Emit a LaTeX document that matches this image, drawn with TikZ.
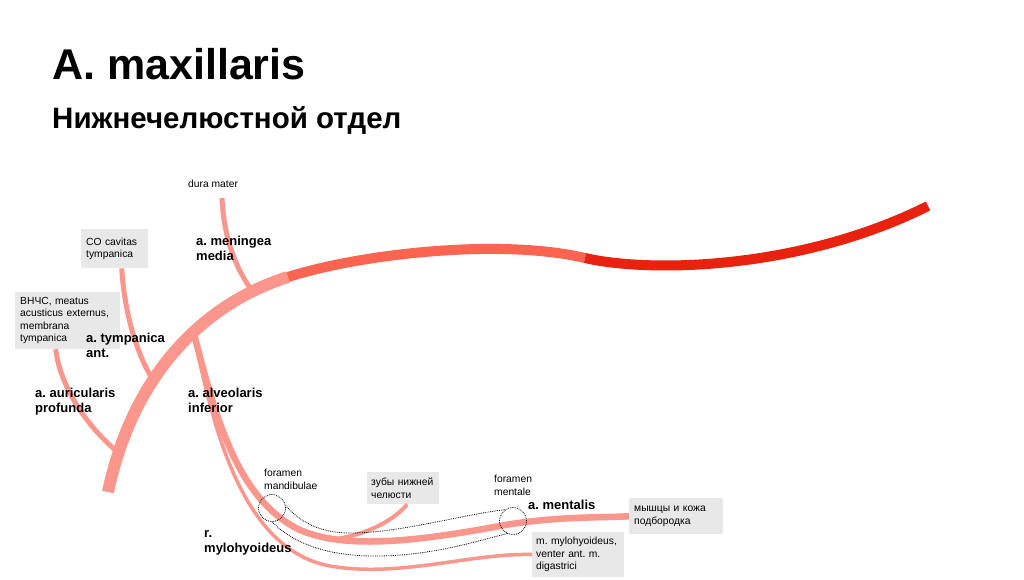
\documentclass[tikz,border=0pt]{standalone}
\usepackage{fontspec}
\setmainfont{Liberation Sans}
\usetikzlibrary{positioning}
\definecolor{vessel}{RGB}{250,150,140}
\definecolor{vesselmid}{RGB}{250,100,80}
\definecolor{vesseldark}{RGB}{232,34,14}
\definecolor{boxgray}{RGB}{232,232,232}
\frenchspacing

\begin{document}
\begin{tikzpicture}[
  x=1pt, y=-1pt,
  tag/.style={anchor=north west, inner sep=0pt, align=left, font=\fontsize{13}{15}\selectfont\bfseries},
  note/.style={anchor=north west, inner sep=0pt, align=left, font=\fontsize{10.3}{12.5}\selectfont},
  info/.style={note, fill=boxgray, inner xsep=5pt, inner ysep=5pt},
  branch/.style={draw=vessel, line width=5pt},
  foramen/.style={circle, draw, densely dotted, line width=0.8pt, minimum size=27pt, inner sep=0pt},
  canal/.style={densely dotted, line width=0.8pt}
]
\fill[white] (0,0) rectangle (1024,574);

\node[anchor=north west, inner sep=0pt, font=\fontsize{43}{50}\selectfont\bfseries] (title) at (52,48) {A. maxillaris};
\node[anchor=north west, inner sep=0pt, font=\fontsize{29.5}{34}\selectfont\bfseries] (subtitle) at (52,106) {Нижнечелюстной отдел};

% boxes
\node[info, text width=57pt, minimum height=39pt] (co) at (81,229) {CO cavitas\\tympanica};
\node[info, text width=95pt, minimum height=53pt] (vnchs) at (15,292) {ВНЧС, meatus\\acusticus externus,\\membrana\\tympanica};
\node[info, text width=64pt, inner xsep=4pt, minimum height=32pt] (teeth) at (367,472) {зубы нижней\\челюсти};
\node[info, text width=84pt, minimum height=36pt] (chin) at (629,498) {мышцы и кожа\\подбородка};
\node[info, text width=84pt, inner xsep=4pt, minimum height=42pt] (myl) at (532,532) {m. mylohyoideus,\\venter ant. m.\\digastrici};

% a. maxillaris
\draw[vessel, line width=12pt] (108,492) .. controls (132,378) and (200,305) .. (288,277)
  coordinate[pos=0.12] (jaur) coordinate[pos=0.38] (jtym)
  coordinate[pos=0.6] (jalv) coordinate[pos=0.86] (jmen);
\draw[vesselmid, line width=10pt] (288,277) .. controls (360,254) and (500,238) .. (585,258);
\draw[vesseldark, line width=10pt] (585,258) .. controls (650,273) and (800,270) .. (928,206);

% branches
\coordinate (durapt) at (222,198);
\draw[branch] (durapt) .. controls (224,240) and (236,268) .. (jmen);
\draw[branch] ([xshift=7pt]co.south) .. controls (125,320) and (140,360) .. (jtym);
\draw[branch] ([xshift=-12pt]vnchs.south) .. controls (60,385) and (85,425) .. (jaur);
\draw[branch, line width=6.5pt] (jalv) .. controls (216,420) and (238,500) .. (300,530)
  .. controls (340,547) and (400,545) .. (505,525) coordinate[pos=0.25] (jteeth)
  .. controls (560,516) and (600,518) .. (chin.west);
\draw[branch, line width=3.5pt] (jalv) .. controls (213,430) and (243,550) .. (330,566)
  .. controls (400,578) and (470,553) .. (myl.west);
\draw[branch, line width=4pt] ([xshift=4pt]teeth.south) .. controls (392,522) and (365,535) .. (jteeth);

% canalis mandibulae
\node[foramen] (fmand) at (272,508) {};
\node[foramen] (fment) at (513,521) {};
\draw[canal] (fmand.10) .. controls (300,522) and (320,533) .. (350,533)
  .. controls (400,533) and (460,515) .. (fment.125);
\draw[canal] (fmand.270) .. controls (290,540) and (320,555) .. (370,556)
  .. controls (430,557) and (480,540) .. (fment.245);

% labels
\node[note] (dura) at (188,180) {dura mater};
\node[tag] (meningea) at (196,236) {a. meningea\\media};
\node[tag] (tympanica) at (86,333) {a. tympanica\\ant.};
\node[tag] (auricularis) at (35,388) {a. auricularis\\profunda};
\node[tag] (alveolaris) at (188,388) {a. alveolaris\\inferior};
\node[note] (formand) at (264,469) {foramen\\mandibulae};
\node[note] (forment) at (494,475) {foramen\\mentale};
\node[tag] (mentalis) at (528,500) {a. mentalis};
\node[tag] (mylohyoideus) at (204,530) {r.\\mylohyoideus};
\end{tikzpicture}
\end{document}
